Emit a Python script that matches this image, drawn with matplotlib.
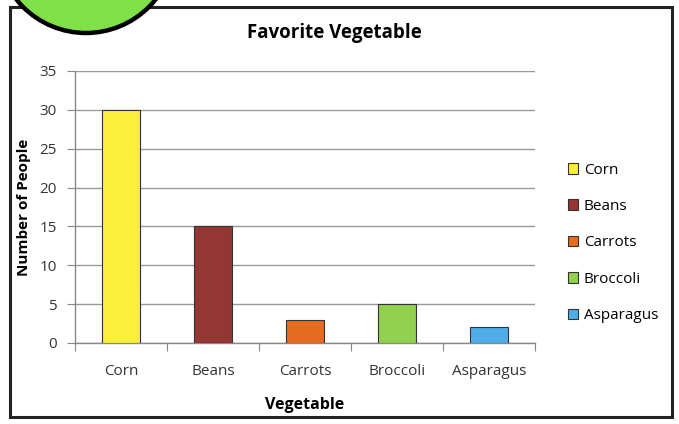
import matplotlib.pyplot as plt
from matplotlib.patches import Ellipse, Rectangle

vegetables = ['Corn', 'Beans', 'Carrots', 'Broccoli', 'Asparagus']
people = [30, 15, 3, 5, 2]
colors = ['#FAF03C', '#943634', '#E46C21', '#92D050', '#4FAEEA']
yticks = [0, 5, 10, 15, 20, 25, 30, 35]

plt.rcParams['font.family'] = ['Open Sans', 'DejaVu Sans']

fig = plt.figure(figsize=(6.79, 4.24), dpi=100)
W, H = 679, 424

# chart frame
fig.patches.append(Rectangle((10 / W, 7 / H), 662 / W, 410 / H, transform=fig.transFigure,
                             fill=False, edgecolor='#222222', linewidth=2.2, zorder=0))
# green circle peeking at top-left
fig.patches.append(Ellipse((86 / W, 1 + 56 / H), 2 * 89 / W, 2 * 89 / H, transform=fig.transFigure,
                           facecolor='#80E048', edgecolor='black', linewidth=3.2, zorder=5))

ax = fig.add_axes([75 / W, 1 - 343 / H, 460 / W, 272 / H])
x = range(len(vegetables))
bars = ax.bar(x, people, width=0.42, color=colors, edgecolor='#333333', linewidth=0.8, zorder=3)

ax.set_xlim(-0.5, len(vegetables) - 0.5)
ax.set_ylim(0, 35)
ax.set_yticks(yticks)
ax.set_xticks([i - 0.5 for i in range(len(vegetables) + 1)])
ax.set_xticklabels([])
ax.set_xticks(list(x), minor=True)
ax.set_xticklabels(vegetables, minor=True)
ax.tick_params(axis='x', which='major', length=6, color='#888888', direction='out')
ax.tick_params(axis='x', which='minor', length=0, pad=15, labelsize=11, labelcolor='#333333')
ax.tick_params(axis='y', length=6, color='#888888', labelsize=11, labelcolor='#333333', pad=7)
ax.grid(axis='y', color='#999999', linewidth=1.0, zorder=0)
for s in ['top', 'right']:
    ax.spines[s].set_visible(False)
for s in ['left', 'bottom']:
    ax.spines[s].set_color('#888888')
    ax.spines[s].set_linewidth(1.0)

ax.set_xlabel('Vegetable', fontweight='bold', fontsize=11.5, labelpad=13)
ax.set_ylabel('Number of People', fontweight='bold', fontsize=11, labelpad=6)
fig.text(334 / W, 1 - 33 / H, 'Favorite Vegetable', ha='center', va='center',
         fontweight='bold', fontsize=13.5)

ax.legend(bars, vegetables, loc='center left', bbox_to_anchor=(554 / W, 1 - 243 / H),
          bbox_transform=fig.transFigure, frameon=False, fontsize=11,
          handlelength=0.7, handleheight=0.7, handletextpad=0.35, labelspacing=1.4)

fig.savefig('out.png', dpi=100)
